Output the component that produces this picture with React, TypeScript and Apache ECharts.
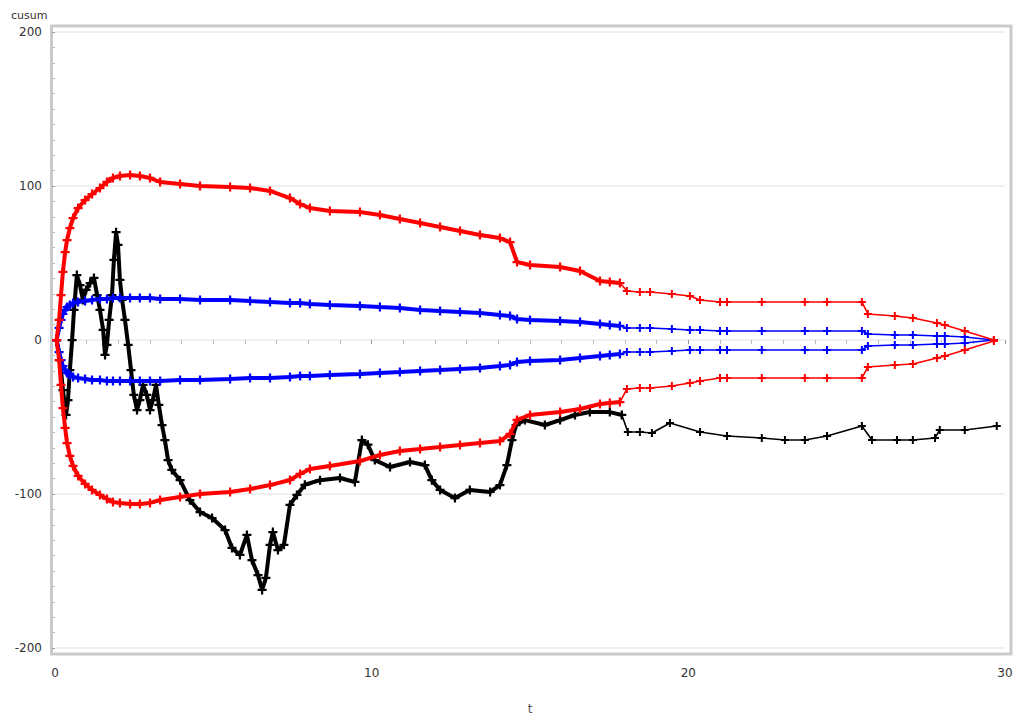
import React, { useEffect, useRef } from "react";
import * as echarts from "echarts";

// black cumulative path
const tBlack = [0.05,0.16,0.25,0.35,0.41,0.47,0.54,0.60,0.69,0.79,
  0.88,0.98,1.11,1.23,1.33,1.42,1.52,1.58,1.64,1.71,
  1.80,1.86,1.93,1.99,2.05,2.12,2.21,2.31,2.40,2.49,
  2.59,2.68,2.78,2.90,3.00,3.09,3.19,3.28,3.38,3.47,
  3.57,3.69,3.95,4.26,4.58,4.96,5.37,5.59,5.84,6.06,
  6.22,6.41,6.54,6.66,6.79,6.88,7.04,7.23,7.42,7.64,
  7.89,8.37,9.0,9.47,9.69,9.88,10.1,10.58,11.21,11.68,
  11.9,12.16,12.63,13.1,13.74,14.05,14.27,14.43,14.56,14.84,
  15.47,15.95,16.42,16.89,17.52,17.9,18.09,18.47,18.85,19.42,
  20.37,21.22,22.32,23.05,23.68,24.38,25.48,25.8,26.59,27.09,
  27.79,27.94,28.73,29.74];
const cusum = [0,-13,-32.5,-48.7,-39,-19.5,0,19.5,42.2,35.7,
  26,32.5,37,40.3,29.2,19.5,6.5,-9.7,-3.2,13,
  29.2,52,70,61.7,39,26,13,-3.2,-19.5,-35.7,
  -45.5,-39,-29.2,-35.7,-45.5,-39,-29.2,-42.2,-55.2,-65,
  -78,-84.4,-91,-104,-111.7,-115.6,-123.4,-135,-139.6,-126.6,
  -142.9,-152.6,-162.3,-154.5,-133,-124.7,-136.4,-133,-107,-100.6,
  -94,-91,-89.6,-92.2,-65,-68,-78,-82.5,-79.2,-81.2,
  -91,-97.4,-102.6,-97.4,-98.7,-94.2,-81.2,-65,-55.2,-52,
  -55.2,-52,-48.7,-46.8,-46.8,-48.7,-59.7,-59.7,-60.4,-53.9,
  -59.7,-62.3,-63.6,-64.9,-64.9,-62.3,-55.8,-64.9,-64.9,-64.9,
  -63.6,-58.4,-58.4,-55.8];

// bound time grid
const tBound = [0.05,0.13,0.19,0.25,0.32,0.38,0.47,0.57,0.73,0.95,
  1.17,1.42,1.64,1.83,2.05,2.37,2.68,3.0,3.32,3.95,
  4.58,5.53,6.16,6.79,7.42,7.74,8.05,8.68,9.63,10.26,
  10.89,11.53,12.16,12.79,13.42,14.05,14.37,14.59,15.0,15.95,
  16.58,17.21,17.52,17.84,18.06,18.47,18.79,19.48,20.05,20.37,
  21.0,21.22,22.32,23.68,24.38,25.48,25.67,26.52,27.09,27.85,
  28.1,28.73,29.65];
const redUpper = [0,13,29.2,44.2,57.1,64.9,72.7,79.2,85.7,90.9,
  94.8,98.7,102.6,105.2,106.5,107.1,106.5,105.2,102.6,101.3,
  100,99.4,98.7,96.8,92.2,88.3,85.7,83.8,83.1,81.2,
  78.6,76,73.4,70.8,68.2,66.2,63.6,50.6,48.7,47.4,
  44.8,38.3,37.7,37,31.8,31.2,31.2,29.9,28.6,26,
  24.7,24.7,24.7,24.7,24.7,24.7,16.9,15.6,14.3,11,
  9.7,5.8,0];
const redLower = [0,-13,-29.2,-44.2,-57.1,-66.9,-75.3,-81.8,-88.3,-93.5,
  -97.4,-100.6,-103.2,-105.2,-105.8,-106.5,-106.5,-105.8,-103.9,-101.9,
  -100,-98.7,-96.8,-94.2,-90.9,-87,-83.8,-81.8,-78.6,-74.7,
  -72.1,-70.8,-69.5,-68.2,-66.9,-65.6,-61,-51.9,-48.7,-46.8,
  -44.8,-41.6,-40.9,-40.3,-31.8,-31.2,-31.2,-29.9,-27.9,-26.6,
  -24.7,-24.7,-24.7,-24.7,-24.7,-24.7,-17.5,-16.2,-15.6,-11.7,
  -10.4,-6.5,-0.6];
const blueUpper = [0,7.8,13,16.9,19.5,21.4,22.7,24,24.7,25.3,
  26,26.6,26.6,27.3,27.3,27.3,27.3,27.3,26.6,26.6,
  26,26,25.3,24.7,24,24,23.4,22.7,22.1,21.4,
  20.8,19.5,18.8,18.2,17.5,16.2,15.6,13.6,13,12.3,
  11.7,10.4,9.7,9.1,7.8,7.8,7.8,7.1,6.5,6.5,
  5.8,5.8,5.8,5.8,5.8,5.8,3.9,3.2,3.2,2.6,
  2.6,1.9,0];
const blueLower = [0,-7.8,-13,-16.9,-19.5,-21.4,-22.7,-24,-24.7,-25.3,
  -26,-26,-26.6,-26.6,-26.6,-26.6,-26.6,-26.6,-26.6,-26,
  -26,-25.3,-24.7,-24.7,-24,-23.4,-23.4,-22.7,-22.1,-21.4,
  -20.8,-20.1,-19.5,-18.8,-18.2,-16.9,-16.2,-14.3,-13.6,-13,
  -11.7,-10.4,-9.7,-9.1,-7.8,-7.8,-7.8,-7.1,-6.5,-6.5,
  -6.5,-6.5,-6.5,-6.5,-6.5,-6.5,-3.9,-3.2,-3.2,-2.6,
  -2.6,-1.9,0];

const yName = "cusum";
const xName = "t";

// style: where the dense (thick) part of each curve ends
const DENSE_END = 18.0;
const PLUS = "path://M3,0L5,0L5,3L8,3L8,5L5,5L5,8L3,8L3,5L0,5L0,3L3,3Z";

function pairs(ts: number[], vs: number[]) {
  return ts.map((t, i) => [t, vs[i]]);
}

function splitSeries(name: string, ts: number[], vs: number[], color: string, z: number) {
  const all = pairs(ts, vs);
  let k = all.findIndex((p) => p[0] > DENSE_END);
  if (k < 0) k = all.length;
  const dense = all.slice(0, k);
  const sparse = all.slice(Math.max(0, k - 1));
  const base = {
    type: "line",
    symbol: PLUS,
    showSymbol: true,
    showAllSymbol: true,
    z,
    itemStyle: { color },
    emphasis: { disabled: true },
  };
  return [
    { ...base, name, data: dense, symbolSize: 9, lineStyle: { color, width: 4 } },
    { ...base, name: name + " (late)", data: sparse, symbolSize: 8, lineStyle: { color, width: 1.6 } },
  ];
}

export default function App() {
  const ref = useRef<HTMLDivElement>(null);
  useEffect(() => {
    if (!ref.current) return;
    const chart = echarts.init(ref.current, null, { renderer: "svg" });
    chart.setOption({
      animation: false,
      textStyle: { fontFamily: "DejaVu Sans, sans-serif" },
      grid: { left: 55, right: 15, top: 32, bottom: 68 },
      xAxis: {
        type: "value",
        min: 0,
        max: 30,
        interval: 10,
        offset: 8,
        axisLine: { show: false },
        axisTick: { show: true, length: 4, lineStyle: { color: "#999" } },
        minorTick: { show: true, splitNumber: 10, length: 4, lineStyle: { color: "#bbb" } },
        axisLabel: { margin: 11, color: "#333", fontSize: 12 },
        splitLine: { show: false },
      },
      yAxis: {
        type: "value",
        min: -200,
        max: 200,
        interval: 100,
        offset: 5,
        axisLine: { show: false },
        axisTick: { show: true, length: 3, lineStyle: { color: "#999" } },
        minorTick: { show: true, splitNumber: 10, length: 3, lineStyle: { color: "#bbb" } },
        axisLabel: { margin: 8, color: "#333", fontSize: 12 },
        splitLine: { show: true, lineStyle: { color: "#ebebeb", width: 1.5 } },
      },
      graphic: [
        {
          type: "rect",
          silent: true,
          z: -1,
          shape: { x: 51.5, y: 26, width: 959.5, height: 628 },
          style: { fill: "none", stroke: "#c8cbce", lineWidth: 3 },
        },
        {
          type: "text",
          silent: true,
          style: { x: 11, y: 15, text: yName, fill: "#333", fontSize: 11, verticalAlign: "middle", fontFamily: "DejaVu Sans, sans-serif" },
        },
        {
          type: "text",
          silent: true,
          style: { x: 530, y: 709, text: xName, fill: "#555", fontSize: 12, align: "center", verticalAlign: "middle", fontFamily: "DejaVu Sans, sans-serif" },
        },
      ],
      series: [
        ...splitSeries("cusum", tBlack, cusum, "#000000", 2),
        ...splitSeries("blue upper", tBound, blueUpper, "#0000ff", 3),
        ...splitSeries("blue lower", tBound, blueLower, "#0000ff", 3),
        ...splitSeries("red upper", tBound, redUpper, "#ff0000", 4),
        ...splitSeries("red lower", tBound, redLower, "#ff0000", 4),
      ],
    });
    return () => chart.dispose();
  }, []);
  return (
    <div
      ref={ref}
      style={{ position: "fixed", left: 0, top: 0, width: 1020, height: 716, background: "#fff" }}
    />
  );
}
